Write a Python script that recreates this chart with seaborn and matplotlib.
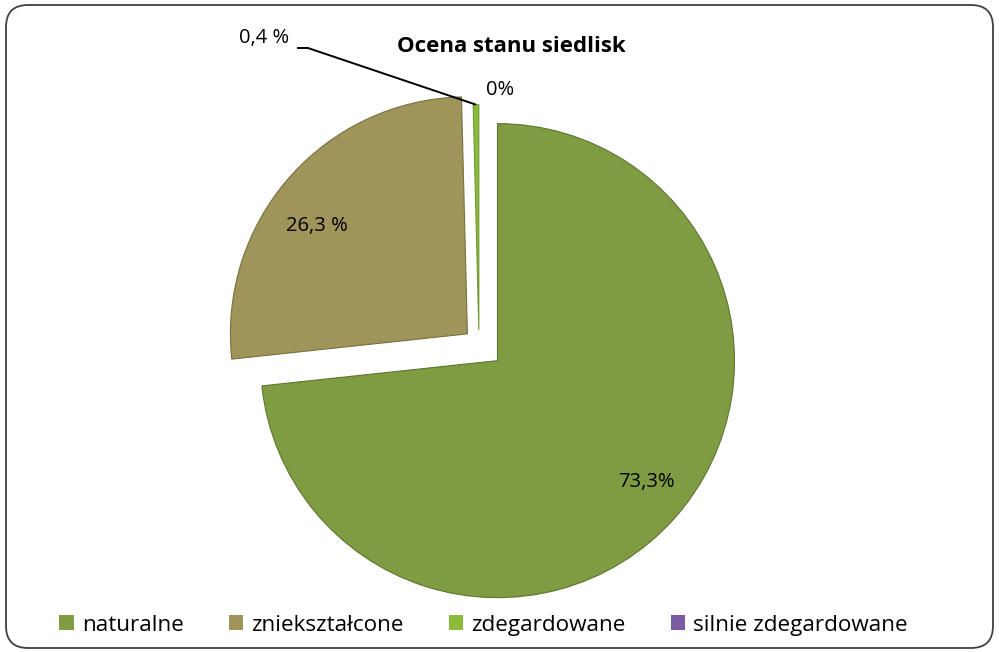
import numpy as np
import matplotlib
matplotlib.use("Agg")
import matplotlib.pyplot as plt
import seaborn as sns
from matplotlib.patches import FancyBboxPatch
from matplotlib.transforms import IdentityTransform

# data
categories = ["naturalne", "zniekształcone", "zdegardowane", "silnie zdegardowane"]
shares = [73.3, 26.3, 0.4, 0.0]
slice_labels = ["73,3%", "26,3 %", "0,4 %", "0%"]
colors = ["#7f9c42", "#9f9459", "#8cba3c", "#7b5ba6"]
explode = [0.105, 0.065, 0.06, 0.06]

sns.set_style("white")
plt.rcParams["font.family"] = ["Open Sans", "DejaVu Sans"]
plt.rcParams["text.color"] = "black"

W, H, DPI = 999, 652, 100
fig = plt.figure(figsize=(W / DPI, H / DPI), dpi=DPI)
ax = fig.add_axes([0, 0, 1, 1])

# pie centre and radius in pixels
cx, cy, rpx = 479, 344, 237

wedges, _ = ax.pie(shares, colors=colors, startangle=90, counterclock=False,
                   explode=explode, radius=1.0,
                   wedgeprops=dict(edgecolor="#5e7430", linewidth=0.8))
wedges[1].set_edgecolor("#77703f")
wedges[2].set_edgecolor("#6f9a2c")
wedges[2].set_radius(0.95)
wedges[3].set_edgecolor("none")

ax.set_aspect("auto")
ax.set_xlim(-cx / rpx, (W - cx) / rpx)
ax.set_ylim(-(H - cy) / rpx, cy / rpx)
ax.axis("off")


def wedge_point(w, dist, dang=0.0):
    mid = np.deg2rad((w.theta1 + w.theta2) / 2 + dang)
    x0, y0 = w.center
    return x0 + dist * w.r * np.cos(mid), y0 + dist * w.r * np.sin(mid)


fs = 14.5
x, y = wedge_point(wedges[0], 0.81, 2.7)
ax.text(x, y, slice_labels[0], ha="center", va="center", fontsize=fs)
x, y = wedge_point(wedges[1], 0.78, 5.5)
ax.text(x, y, slice_labels[1], ha="center", va="center", fontsize=fs)

# 0,4 % label with leader line (short horizontal arm, then to the slice tip)
tip = wedge_point(wedges[2], 1.0)
ax.text(-0.802, 1.270, slice_labels[2], ha="right", va="baseline", fontsize=fs)
ax.plot([-0.768, -0.722, tip[0]], [1.249, 1.249, tip[1]], color="black", lw=1.4,
        solid_capstyle="butt")

x, y = wedge_point(wedges[3], 1.01)
ax.text(x + 0.089, y, slice_labels[3], ha="center", va="center", fontsize=fs)

fig.text(0.512, 0.928, "Ocena stanu siedlisk", ha="center", va="center",
         fontsize=16, fontweight="bold")

leg = fig.legend(wedges, categories, loc="center", bbox_to_anchor=(0.484, 0.041),
                 ncol=4, frameon=False, fontsize=16.2, handlelength=0.65,
                 handleheight=0.65, handletextpad=0.35, columnspacing=2.0)
for h in leg.legend_handles:
    h.set_edgecolor("none")

border = FancyBboxPatch((6, 4), W - 12, H - 9,
                        boxstyle="round,pad=0,rounding_size=22",
                        transform=IdentityTransform(), facecolor="none",
                        edgecolor="#404040", linewidth=1.3)
fig.add_artist(border)

fig.savefig("out.png", dpi=DPI, facecolor="white")
